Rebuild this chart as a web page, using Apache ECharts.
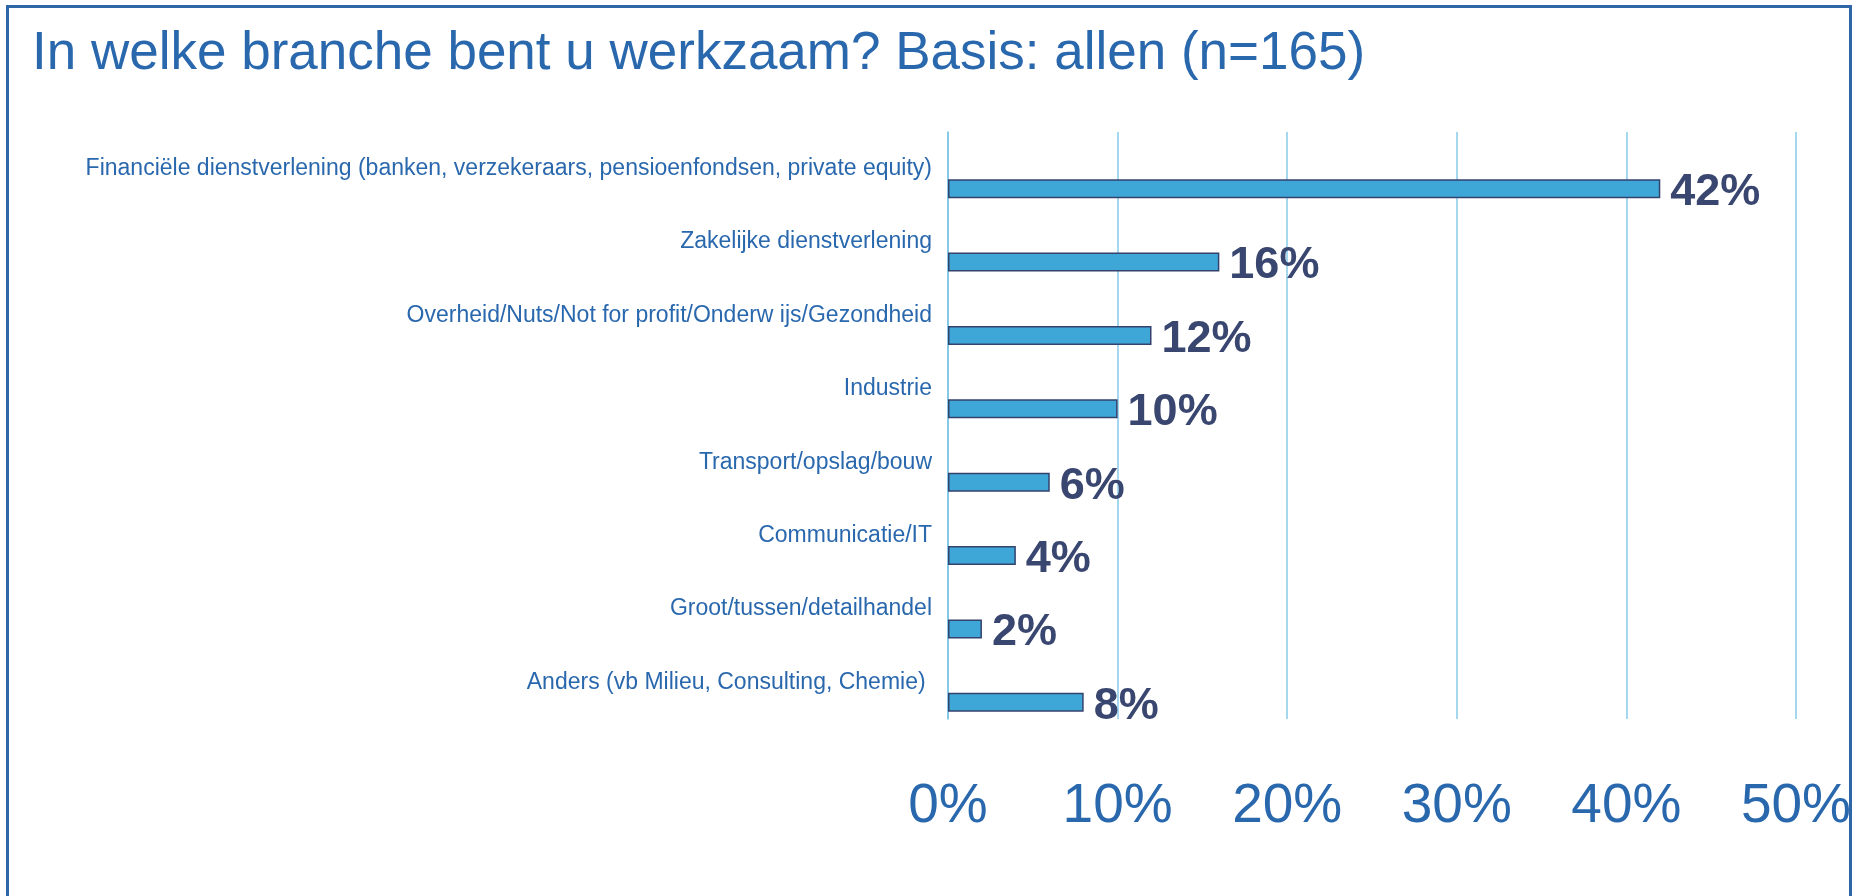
<!DOCTYPE html>
<html>
<head>
<meta charset="utf-8">
<title>Branche</title>
<script src="https://cdn.jsdelivr.net/npm/echarts@6/dist/echarts.min.js"></script>
<style>
  html, body { margin: 0; padding: 0; background: #fff; }
  #chart { width: 1854px; height: 896px; }
</style>
</head>
<body>
<div id="chart"></div>
<script>
// categories, top to bottom
var categories = [
	'Financiële dienstverlening (banken, verzekeraars, pensioenfondsen, private equity)',
	'Zakelijke dienstverlening',
	'Overheid/Nuts/Not for profit/Onderw ijs/Gezondheid',
	'Industrie',
	'Transport/opslag/bouw',
	'Communicatie/IT',
	'Groot/tussen/detailhandel',
	'Anders (vb Milieu, Consulting, Chemie) '
];
var percentages = [42, 16, 12, 10, 6, 4, 2, 8];
// empty slot, like the second series in the original sheet
var emptySlot = [null, null, null, null, null, null, null, null];
var tickLabels = ['0%', '10%', '20%', '30%', '40%', '50%'];

function initChart(chartId) {
	var dom = document.getElementById(chartId);
	var myChart = echarts.init(dom);
	var font = 'Liberation Sans, Arial, sans-serif';

	var option = {
		animation: false,
		title: {
			text: 'In welke branche bent u werkzaam? Basis: allen (n=165)',
			left: 27,
			top: 23,
			textStyle: {
				color: '#2A68AE',
				fontSize: 53,
				fontWeight: 'normal',
				fontFamily: font
			}
		},
		graphic: [{
			type: 'rect',
			shape: { x: 7.5, y: 6.5, width: 1843, height: 1000 },
			style: { fill: 'none', stroke: '#2E66A8', lineWidth: 3 },
			silent: true
		}],
		grid: {
			left: 948,
			right: 58,
			top: 132,
			bottom: 177
		},
		xAxis: {
			type: 'value',
			min: 0,
			max: 50,
			interval: 10,
			axisLine: { show: false },
			axisTick: { show: false },
			axisLabel: {
				margin: 60,
				color: '#2A68AE',
				fontSize: 55,
				fontFamily: font,
				formatter: function(v) {
					return tickLabels[Math.round(v / 10)];
				}
			},
			splitLine: {
				show: true,
				lineStyle: { color: '#86CBEA', width: 1.5 }
			}
		},
		yAxis: {
			type: 'category',
			inverse: true,
			data: categories,
			axisLine: {
				show: true,
				lineStyle: { color: '#7CC3E6', width: 1.5 }
			},
			axisTick: { show: false },
			axisLabel: {
				margin: 16,
				color: '#2A68AE',
				fontSize: 23,
				fontFamily: font
			}
		},
		series: [{
				name: 'leeg',
				type: 'bar',
				barWidth: 19,
				barGap: '110%',
				data: emptySlot
			},
			{
				name: 'Branche',
				type: 'bar',
				barWidth: 19,
				barGap: '110%',
				data: percentages,
				itemStyle: {
					color: '#3EA7D7',
					borderColor: '#34426E',
					borderWidth: 1.5
				},
				label: {
					show: true,
					position: 'right',
					distance: 10,
					offset: [0, 4],
					formatter: '{c}%',
					color: '#39466F',
					fontSize: 45,
					fontWeight: 'bold',
					fontFamily: font
				}
			}
		]
	};

	myChart.setOption(option, true);
}

onload = function() {
	initChart('chart');
};
</script>
</body>
</html>
